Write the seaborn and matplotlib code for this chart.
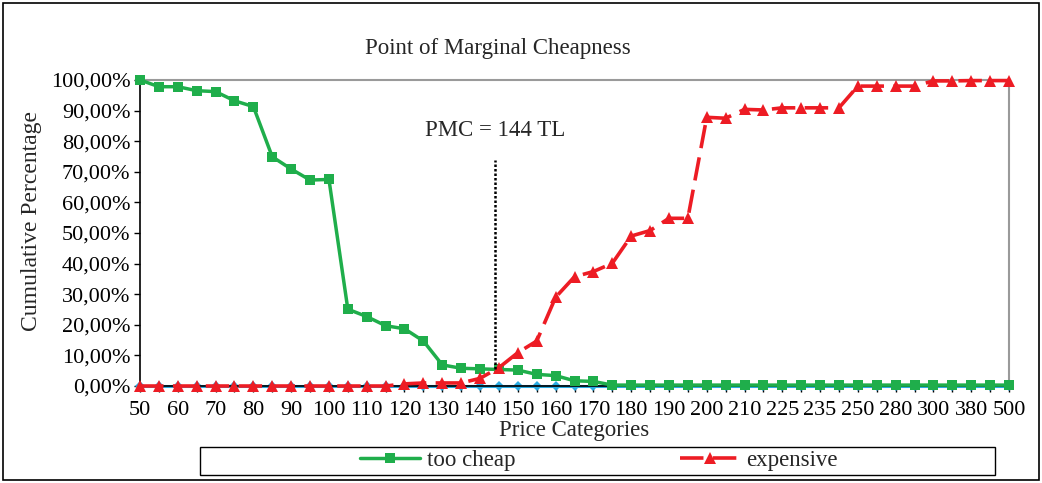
import matplotlib
matplotlib.use('Agg')
import matplotlib.pyplot as plt
import numpy as np
import pandas as pd
import seaborn as sns
from matplotlib.patches import Rectangle
from matplotlib.ticker import FuncFormatter

# price categories (every other label is hidden on the axis, as in the source)
categories = [50, 55, 60, 65, 70, 75, 80, 85, 90, 95, 100, 105, 110, 115, 120,
              125, 130, 135, 140, 145, 150, 155, 160, 165, 170, 175, 180, 185,
              190, 195, 200, 205, 210, 220, 225, 230, 235, 240, 250, 270, 280,
              290, 300, 350, 380, 400, 500]

too_cheap = [100.0, 97.8, 97.8, 96.5, 96.2, 93.2, 91.3, 74.9, 70.9, 67.3, 67.5,
             25.1, 22.7, 19.7, 18.7, 14.7, 6.9, 5.8, 5.6, 5.4, 5.2, 3.8, 3.4,
             1.7, 1.5, 0.3, 0.3, 0.3, 0.3, 0.3, 0.3, 0.3, 0.3, 0.3, 0.3, 0.3,
             0.3, 0.3, 0.3, 0.3, 0.3, 0.3, 0.3, 0.3, 0.3, 0.3, 0.3]

expensive = [0.0, 0.0, 0.0, 0.0, 0.0, 0.0, 0.0, 0.0, 0.0, 0.0, 0.0, 0.0, 0.0,
             0.0, 0.7, 1.0, 1.0, 1.0, 2.5, 6.0, 10.9, 14.7, 29.0, 35.7, 37.4,
             40.1, 49.0, 50.8, 54.8, 54.8, 87.8, 87.5, 90.4, 90.2, 90.9, 90.9,
             90.9, 90.9, 98.0, 98.0, 98.0, 98.0, 99.7, 99.7, 99.8, 99.8, 99.8]

not_cheap = [0.0] * len(categories)

pmc_price = 144
pmc_top = 74.0

df = pd.DataFrame({'pos': np.arange(len(categories)), 'price': categories,
                   'too_cheap': too_cheap, 'expensive': expensive,
                   'not_cheap': not_cheap})

sns.set_style('white')
plt.rcParams['font.family'] = ['Liberation Serif', 'DejaVu Serif']

green = '#1fae4b'
red = '#ed1c24'
blue = '#29abe2'

fig = plt.figure(figsize=(10.42, 4.83), dpi=100)
ax = fig.add_axes([0.1344, 0.2008, 0.8339, 0.6336])

sns.lineplot(data=df, x='pos', y='not_cheap', ax=ax, color=blue, lw=2.2,
             marker='D', markersize=5.5, markeredgewidth=0, clip_on=False,
             zorder=2, label='_nolegend_')
sns.lineplot(data=df, x='pos', y='too_cheap', ax=ax, color=green, lw=2.5,
             marker='s', markersize=6.5, markeredgewidth=0, clip_on=False,
             zorder=3, label='too cheap')
sns.lineplot(data=df, x='pos', y='expensive', ax=ax, color=red, lw=2.6,
             linestyle=(0, (6.5, 2.6)), marker='^', markersize=8.5,
             markeredgewidth=0, clip_on=False, zorder=4, label='expensive')

# PMC marker line, placed on the categorical scale by interpolation
pmc_x = np.interp(pmc_price, categories, df['pos'])
pmc_y = np.interp(pmc_x, df['pos'], df['too_cheap'])
ax.plot([pmc_x, pmc_x], [pmc_y, pmc_top], color='black', ls=(0, (1, 0.8)),
        lw=1.8, zorder=5)
ax.text(pmc_x, pmc_top + 6, f'PMC = {pmc_price} TL', ha='center',
        va='bottom', fontsize=16.5)

ax.set_xlim(0, len(categories) - 1)
ax.set_ylim(0, 100)
ax.set_yticks(np.arange(0, 101, 10))
ax.yaxis.set_major_formatter(FuncFormatter(lambda v, p: f'{v:.2f}%'.replace('.', ',')))
ax.set_xticks(df['pos'])
ax.set_xticklabels([str(c) if i % 2 == 0 else '' for i, c in enumerate(categories)])
ax.tick_params(axis='both', labelsize=16, length=4, width=1, direction='out',
               colors='black', bottom=True, left=True)
ax.tick_params(axis='x', pad=7)
ax.tick_params(axis='y', pad=3)

ax.set_xlabel('Price Categories', fontsize=16.5, labelpad=0)
ax.set_ylabel('Cumulative Percentage', fontsize=17)
ax.yaxis.set_label_coords(-0.113, 0.54)
ax.legend().remove()

for s in ['top', 'right']:
    ax.spines[s].set_color('#9a9a9a')
    ax.spines[s].set_linewidth(1.5)
for s in ['left', 'bottom']:
    ax.spines[s].set_color('black')
    ax.spines[s].set_linewidth(1.2)

fig.text(0.478, 0.90, 'Point of Marginal Cheapness', ha='center', va='center',
         fontsize=16.5)

# legend box below the plot
fig.patches.append(Rectangle((0.192, 0.017), 0.763, 0.058, transform=fig.transFigure,
                             fill=False, ec='black', lw=1.0))
h, l = ax.get_legend_handles_labels()
fig.legend(h, l, loc='center', bbox_to_anchor=(0.575, 0.046), ncol=2,
           frameon=False, fontsize=16.5, handlelength=2.6, handletextpad=0.3,
           columnspacing=7.2)

# outer frame
fig.patches.append(Rectangle((0.003, 0.006), 0.994, 0.988, transform=fig.transFigure,
                             fill=False, ec='black', lw=1.2))

fig.savefig('out.png', dpi=100)
